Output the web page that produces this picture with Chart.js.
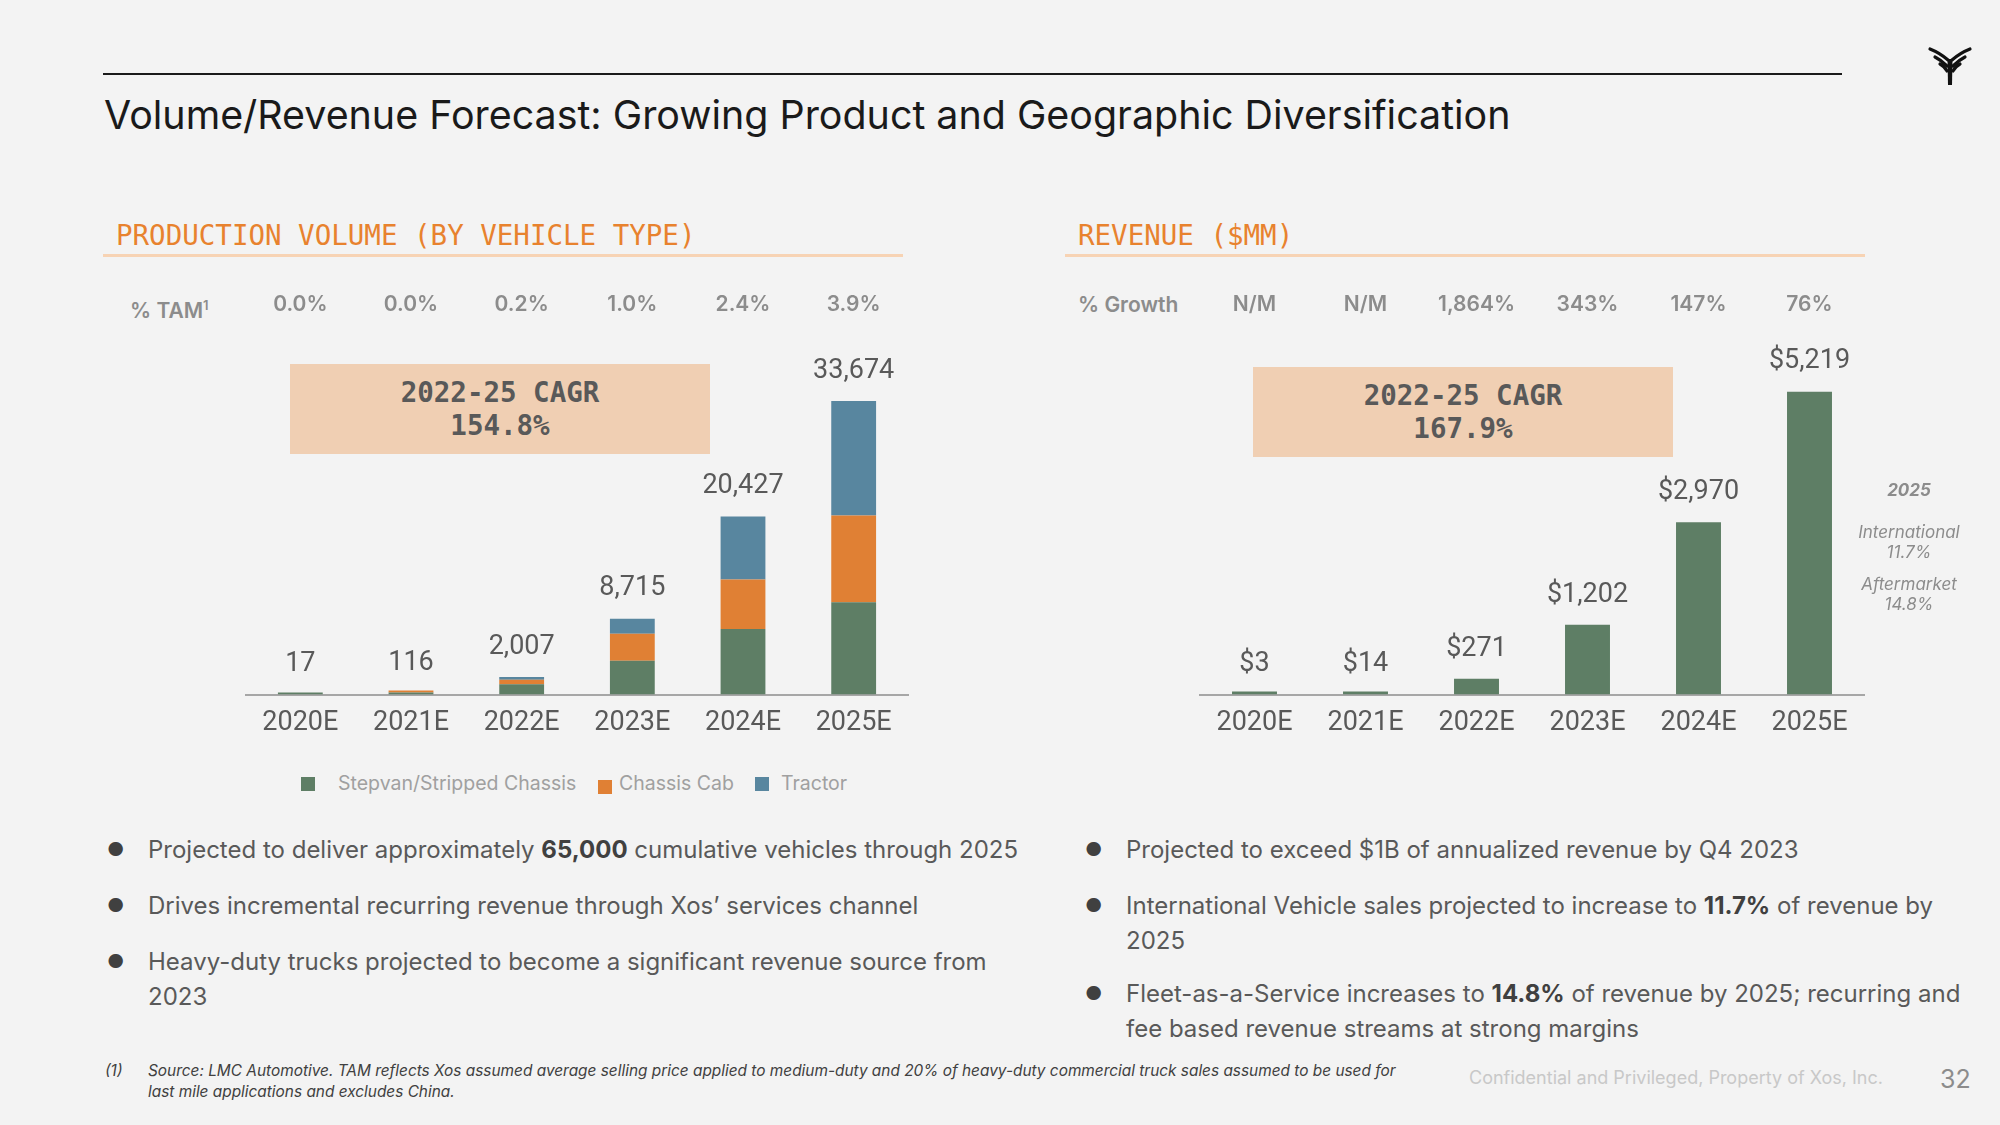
<!DOCTYPE html>
<html>
<head>
<meta charset="utf-8">
<script src="https://cdn.jsdelivr.net/npm/chart.js@4.4.1/dist/chart.umd.min.js"></script>
<style>
  html, body { margin: 0; padding: 0; }
  body { width: 2000px; height: 1125px; background: #f3f3f3; position: relative; overflow: hidden; font-family: Inter, sans-serif; }
  .abs { position: absolute; white-space: nowrap; }
  .topline { left: 103px; top: 73px; width: 1739px; height: 2px; background: #1a1a1a; }
  .title { left: 104px; top: 92px; font-size: 39.4px; color: #1a1a1a; line-height: 46px; }
  .sect { font-family: "DejaVu Sans Mono", monospace; font-size: 27.5px; color: #e8822e; line-height: 32px; }
  .rule { height: 3px; background: #f7d3b4; }
  .rowlab { font-size: 21px; font-weight: 600; color: #8c8c8c; line-height: 24px; }
  .cagr { background: #f0cfb3; font-family: "DejaVu Sans Mono", monospace; font-weight: bold; font-size: 27.5px; color: #595959; text-align: center; line-height: 33px; box-sizing: border-box; padding-top: 12px; }
  .note { font-style: italic; font-size: 17px; color: #8c8c8c; text-align: center; width: 130px; line-height: 20px; }
  .legend { top: 772px; font-size: 19.5px; color: #a0a0a0; line-height: 22px; }
  .sq { display: inline-block; width: 14px; height: 14px; vertical-align: -1px; }
  .bul { font-size: 24px; color: #595959; line-height: 35px; }
  .bul b { color: #404040; }
  .dot { font-size: 19px; color: #404040; line-height: 35px; }
  .foot { font-style: italic; font-size: 15.4px; color: #404040; line-height: 21px; }
</style>
</head>
<body>
<div class="abs topline"></div>
<div class="abs title">Volume/Revenue Forecast: Growing Product and Geographic Diversification</div>
<svg class="abs" style="left:1927px;top:45px" width="46" height="42" viewBox="0 0 46 42">
  <g stroke="#111" stroke-width="3.2" fill="none" stroke-linecap="round">
    <path d="M3 4 Q13 8 21 15"/>
    <path d="M43 4 Q33 8 25 15"/>
    <path d="M8 12 Q14 15 20 21"/>
    <path d="M38 12 Q32 15 26 21"/>
    <path d="M13 19 Q17 21 20 26"/>
    <path d="M33 19 Q29 21 26 26"/>
  </g>
  <path d="M20.5 14 L25.5 14 L25 40 L21 40 Z" fill="#111"/>
</svg>

<div class="abs sect" style="left:116px;top:219px">PRODUCTION VOLUME (BY VEHICLE TYPE)</div>
<div class="abs rule" style="left:103px;top:254px;width:800px"></div>
<div class="abs sect" style="left:1078px;top:219px">REVENUE ($MM)</div>
<div class="abs rule" style="left:1065px;top:254px;width:800px"></div>

<div class="abs rowlab" style="left:130px;top:293px">% TAM<sup style="font-size:13px;vertical-align:8px">1</sup></div>
<div class="abs rowlab" style="left:1078px;top:293px">% Growth</div>

<canvas id="volumeChart" class="abs" style="left:245px;top:250px" width="664" height="501"></canvas>
<canvas id="revenueChart" class="abs" style="left:1199px;top:250px" width="666" height="501"></canvas>

<div class="abs cagr" style="left:290px;top:364px;width:420px;height:90px">2022-25 CAGR<br>154.8%</div>
<div class="abs cagr" style="left:1253px;top:367px;width:420px;height:90px">2022-25 CAGR<br>167.9%</div>

<div class="abs note" style="left:1844px;top:480px;font-weight:bold">2025</div>
<div class="abs note" style="left:1844px;top:522px">International<br>11.7%</div>
<div class="abs note" style="left:1844px;top:574px">Aftermarket<br>14.8%</div>

<div class="abs legend" style="left:301px"><span class="sq" style="background:#5e7e65"></span></div>
<div class="abs legend" style="left:338px">Stepvan/Stripped Chassis</div>
<div class="abs legend" style="left:598px"><span class="sq" style="background:#e08034;vertical-align:-4px"></span></div>
<div class="abs legend" style="left:619px">Chassis Cab</div>
<div class="abs legend" style="left:755px"><span class="sq" style="background:#58869f"></span></div>
<div class="abs legend" style="left:781px">Tractor</div>

<div class="abs dot" style="left:107px;top:832px">●</div>
<div class="abs bul" style="left:148px;top:832px">Projected to deliver approximately <b>65,000</b> cumulative vehicles through 2025</div>
<div class="abs dot" style="left:107px;top:888px">●</div>
<div class="abs bul" style="left:148px;top:888px">Drives incremental recurring revenue through Xos’ services channel</div>
<div class="abs dot" style="left:107px;top:944px">●</div>
<div class="abs bul" style="left:148px;top:944px">Heavy-duty trucks projected to become a significant revenue source from<br>2023</div>

<div class="abs dot" style="left:1085px;top:832px">●</div>
<div class="abs bul" style="left:1126px;top:832px">Projected to exceed $1B of annualized revenue by Q4 2023</div>
<div class="abs dot" style="left:1085px;top:888px">●</div>
<div class="abs bul" style="left:1126px;top:888px">International Vehicle sales projected to increase to <b>11.7%</b> of revenue by<br>2025</div>
<div class="abs dot" style="left:1085px;top:976px">●</div>
<div class="abs bul" style="left:1126px;top:976px">Fleet-as-a-Service increases to <b>14.8%</b> of revenue by 2025; recurring and<br>fee based revenue streams at strong margins</div>

<div class="abs foot" style="left:105px;top:1060px">(1)</div>
<div class="abs foot" style="left:148px;top:1060px">Source: LMC Automotive. TAM reflects Xos assumed average selling price applied to medium-duty and 20% of heavy-duty commercial truck sales assumed to be used for<br>last mile applications and excludes China.</div>
<div class="abs" style="left:1469px;top:1067px;font-size:18px;color:#c8c8c8">Confidential and Privileged, Property of Xos, Inc.</div>
<div class="abs" style="left:1940px;top:1064px;font-size:25px;color:#8c8c8c">32</div>

<script>
// Categories and values
const years = ['2020E', '2021E', '2022E', '2023E', '2024E', '2025E'];
const stepvan = [17, 40, 1180, 3890, 7526, 10597];
const chassisCab = [null, 76, 530, 3100, 5683, 9945];
const tractor = [null, null, 297, 1725, 7218, 13132];
const tamPct = ['0.0%', '0.0%', '0.2%', '1.0%', '2.4%', '3.9%'];

const revenue = [3, 14, 271, 1202, 2970, 5219];
const growthPct = ['N/M', 'N/M', '1,864%', '343%', '147%', '76%'];

const volumeTotals = years.map((y, i) => (stepvan[i] || 0) + (chassisCab[i] || 0) + (tractor[i] || 0));

// Value labels above the bars + the % row at the top
const topLabels = {
    id: 'topLabels',
    afterDatasetsDraw(chart, args, opts) {
        const ctx = chart.ctx;
        const x = chart.scales.x, y = chart.scales.y;
        ctx.save();
        ctx.textAlign = 'center';
        ctx.textBaseline = 'middle';
        ctx.font = '27px Roboto';
        ctx.fillStyle = '#595959';
        opts.totals.forEach((v, i) => {
            ctx.fillText(opts.prefix + v.toLocaleString('en-US'), x.getPixelForValue(i), y.getPixelForValue(v) - 30);
        });
        ctx.font = '600 21px Inter';
        ctx.fillStyle = '#8c8c8c';
        opts.row.forEach((t, i) => {
            ctx.fillText(t, x.getPixelForValue(i), 55);
        });
        ctx.restore();
    }
};

function baseOptions(yMax, totals, prefix, row) {
    return {
        responsive: false,
        animation: false,
        layout: { padding: 0 },
        plugins: {
            legend: { display: false },
            tooltip: { enabled: false },
            topLabels: { totals: totals, prefix: prefix, row: row }
        },
        scales: {
            x: {
                stacked: true,
                grid: { display: false, drawTicks: false },
                border: { display: true, color: '#a6a6a6', width: 2 },
                ticks: { color: '#595959', font: { family: 'Roboto', size: 27 }, padding: 12 }
            },
            y: { stacked: true, display: false, min: 0, max: yMax }
        }
    };
}

new Chart(document.getElementById('volumeChart'), {
    type: 'bar',
    data: {
        labels: years,
        datasets: [
            { label: 'Stepvan/Stripped Chassis', data: stepvan, backgroundColor: '#5e7e65', minBarLength: 2, barPercentage: 0.405, categoryPercentage: 1 },
            { label: 'Chassis Cab', data: chassisCab, backgroundColor: '#e08034', minBarLength: 2, barPercentage: 0.405, categoryPercentage: 1 },
            { label: 'Tractor', data: tractor, backgroundColor: '#58869f', barPercentage: 0.405, categoryPercentage: 1 }
        ]
    },
    options: baseOptions(51000, volumeTotals, '', tamPct),
    plugins: [topLabels]
});

new Chart(document.getElementById('revenueChart'), {
    type: 'bar',
    data: {
        labels: years,
        datasets: [
            { label: 'Revenue', data: revenue, backgroundColor: '#5e7e65', minBarLength: 3, barPercentage: 0.405, categoryPercentage: 1 }
        ]
    },
    options: baseOptions(7660, revenue, '$', growthPct),
    plugins: [topLabels]
});
</script>
</body>
</html>
